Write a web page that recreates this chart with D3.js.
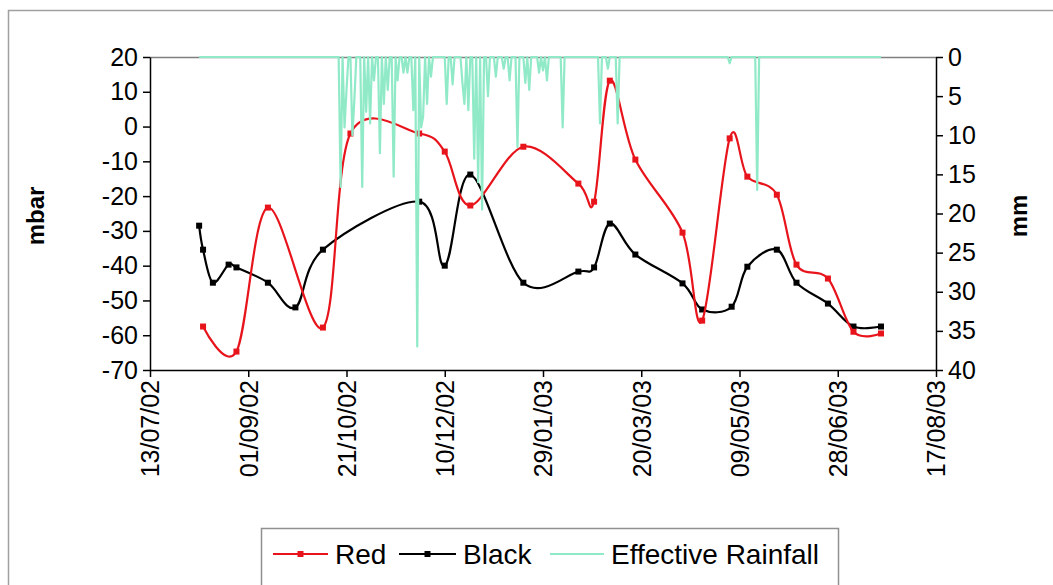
<!DOCTYPE html>
<html><head><meta charset="utf-8">
<script src="https://cdn.jsdelivr.net/npm/d3@7"></script>
<style>
body{margin:0;background:#fff}
svg{display:block}
text{font-family:"Liberation Sans",Arial,sans-serif}
</style>
</head><body>
<svg id="c" width="1053" height="585"></svg>
<script>
// ---------- DATA ----------
const xTickLabels = ["13/07/02","01/09/02","21/10/02","10/12/02","29/01/03","20/03/03","09/05/03","28/06/03","17/08/03"];
const yLeftTicks = [20,10,0,-10,-20,-30,-40,-50,-60,-70];
const yRightTicks = [0,5,10,15,20,25,30,35,40];

const redDates = ["09/08/02","26/08/02","11/09/02","09/10/02","23/10/02","27/11/02","10/12/02","23/12/02","19/01/03","16/02/03","24/02/03","04/03/03","17/03/03","10/04/03","20/04/03","04/05/03","13/05/03","28/05/03","07/06/03","23/06/03","06/07/03","20/07/03"];
const redValues = [-57.5,-64.7,-23.3,-57.8,-2,-2,-7.2,-22.7,-5.8,-16.4,-21.6,13.2,-9.5,-30.5,-55.8,-3.4,-14.4,-19.6,-39.7,-43.7,-59,-59.5];

const blackDates = ["07/08/02","09/08/02","14/08/02","22/08/02","26/08/02","11/09/02","25/09/02","09/10/02","27/11/02","10/12/02","23/12/02","19/01/03","16/02/03","24/02/03","04/03/03","17/03/03","10/04/03","20/04/03","05/05/03","13/05/03","28/05/03","07/06/03","23/06/03","06/07/03","20/07/03"];
const blackValues = [-28.5,-35.4,-44.9,-39.7,-40.5,-44.9,-52,-35.4,-21.6,-40,-13.8,-44.9,-41.7,-40.5,-27.9,-36.8,-45.1,-52.6,-51.8,-40.3,-35.4,-44.9,-50.9,-57.5,-57.5];

// Effective rainfall: daily record, zero except on the rain days listed
const rainStart = "07/08/02", rainEnd = "20/07/03";
const rainDates = ["18/10/02","20/10/02","21/10/02","24/10/02","25/10/02","29/10/02","31/10/02","02/11/02","04/11/02","07/11/02","09/11/02","11/11/02","14/11/02","16/11/02","19/11/02","21/11/02","24/11/02","26/11/02","28/11/02","29/11/02","01/12/02","03/12/02","11/12/02","14/12/02","19/12/02","20/12/02","22/12/02","25/12/02","27/12/02","29/12/02","01/01/03","05/01/03","09/01/03","12/01/03","16/01/03","20/01/03","22/01/03","27/01/03","29/01/03","31/01/03","08/02/03","27/02/03","03/03/03","08/03/03","04/05/03","18/05/03"];
const rainValues = [16.6,9,4.2,10,5.5,16.6,7,8.5,3,12.3,6,4.2,15.3,3,2,2,6.8,37,9,7.6,6,2.5,6,3.5,3.3,6,6.8,13,16,19.5,5,2.5,1.5,3,11.5,3.3,4.2,2,1.7,3,9,8.5,1.5,8.5,0.8,17];

// ---------- CHART ----------
const parse = d3.timeParse("%d/%m/%y");
const fmt = d3.timeFormat("%d/%m/%y");
const svg = d3.select("#c");
const L = 150, R = 936, T = 57, B = 370;
const FS = 25;

const x = d3.scaleTime().domain([parse(xTickLabels[0]), parse(xTickLabels[xTickLabels.length-1])]).range([L, R]);
const yL = d3.scaleLinear().domain([-70, 20]).range([B, T]);
const yR = d3.scaleLinear().domain([0, 40]).range([T, B]);

// outer frame
svg.append("path").attr("d", `M8.5,585 V10.5 H1053`).attr("fill","none").attr("stroke","#a0a0a0").attr("stroke-width",1.5);

// plot area outline (top)
svg.append("line").attr("x1",L).attr("x2",R).attr("y1",T+0.5).attr("y2",T+0.5).attr("stroke","#808080").attr("stroke-width",1.5);

const red = redDates.map((d,i)=>({date:parse(d), v:redValues[i]}));
const black = blackDates.map((d,i)=>({date:parse(d), v:blackValues[i]}));
const rainMap = new Map(rainDates.map((d,i)=>[d, rainValues[i]]));
const rain = d3.timeDay.range(parse(rainStart), d3.timeDay.offset(parse(rainEnd),1))
  .map(d=>({date:d, v: rainMap.has(fmt(d)) ? rainMap.get(fmt(d)) : 0}));

const lineL = d3.line().x(d=>x(d.date)).y(d=>yL(d.v)).curve(d3.curveCardinal.tension(0));
const RED = "#e8141c";
const GREEN = "#90eac8";

svg.append("path").datum(black).attr("d", lineL).attr("fill","none").attr("stroke","#000").attr("stroke-width",2.2);
svg.selectAll(".mb").data(black).join("rect").attr("x",d=>x(d.date)-3).attr("y",d=>yL(d.v)-3).attr("width",6).attr("height",6).attr("fill","#000");

svg.append("path").datum(red).attr("d", lineL).attr("fill","none").attr("stroke",RED).attr("stroke-width",2.2);
svg.selectAll(".mr").data(red).join("rect").attr("x",d=>x(d.date)-3).attr("y",d=>yL(d.v)-3).attr("width",6).attr("height",6).attr("fill",RED);

const lineR = d3.line().x(d=>x(d.date)).y(d=>yR(d.v));
svg.append("path").datum(rain).attr("d", lineR).attr("fill","none").attr("stroke",GREEN).attr("stroke-width",2.2).attr("stroke-linejoin","round");

// axes
function style(g){
  g.selectAll("path.domain").attr("stroke","#000").attr("stroke-width",1.5);
  g.selectAll(".tick line").attr("stroke","#000").attr("stroke-width",1.5);
  g.selectAll("text").attr("font-size",FS).attr("fill","#000").style("font-family",'"Liberation Sans",Arial,sans-serif');
}
const gL = svg.append("g").attr("transform",`translate(${L},0)`)
  .call(d3.axisLeft(yL).tickValues(yLeftTicks).tickSize(7).tickSizeOuter(0).tickPadding(5).tickFormat(d=>String(d)));
style(gL);
const gR = svg.append("g").attr("transform",`translate(${R},0)`)
  .call(d3.axisRight(yR).tickValues(yRightTicks).tickSize(7).tickSizeOuter(0).tickPadding(5).tickFormat(d=>String(d)));
style(gR);
const gX = svg.append("g").attr("transform",`translate(0,${B})`)
  .call(d3.axisBottom(x).tickValues(xTickLabels.map(parse)).tickFormat(fmt).tickSize(7).tickSizeOuter(0));
style(gX);
gX.selectAll("text").attr("transform","rotate(-90)").attr("text-anchor","end").attr("x",-10).attr("y",0).attr("dy","0.35em");

// axis titles
svg.append("text").attr("transform","translate(44,216) rotate(-90)").attr("text-anchor","middle")
  .attr("font-size",24).attr("font-weight","bold").text("mbar");
svg.append("text").attr("transform","translate(1027,216) rotate(-90)").attr("text-anchor","middle")
  .attr("font-size",24).attr("font-weight","bold").text("mm");

// legend
const lg = svg.append("g");
lg.append("rect").attr("x",261.5).attr("y",528.5).attr("width",577).attr("height",80).attr("fill","#fff").attr("stroke","#909090").attr("stroke-width",1.5);
const items = [
  {name:"Red", color:RED, marker:true, x1:273, x2:328, tx:335},
  {name:"Black", color:"#000", marker:true, x1:399, x2:456, tx:463},
  {name:"Effective Rainfall", color:GREEN, marker:false, x1:550, x2:604, tx:611}
];
const ly = 554;
items.forEach(it=>{
  lg.append("line").attr("x1",it.x1).attr("x2",it.x2).attr("y1",ly).attr("y2",ly).attr("stroke",it.color).attr("stroke-width",2.2);
  if(it.marker) lg.append("rect").attr("x",(it.x1+it.x2)/2-3).attr("y",ly-3).attr("width",6).attr("height",6).attr("fill",it.color);
  lg.append("text").attr("x",it.tx).attr("y",ly).attr("dy","0.36em").attr("font-size",28).text(it.name);
});
</script>
</body></html>
